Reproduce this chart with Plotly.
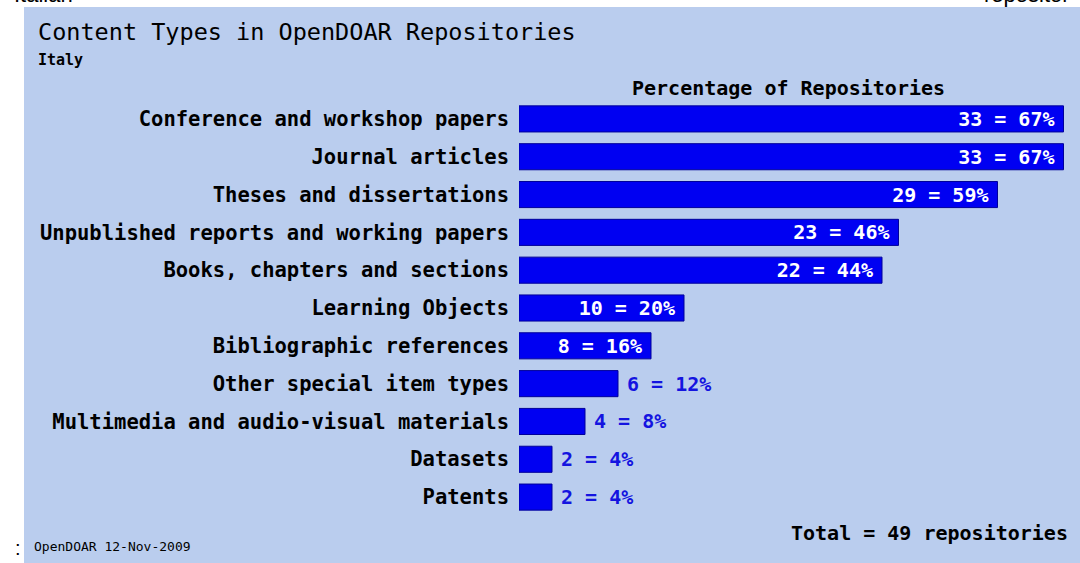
import plotly.graph_objects as go

categories = [
    "Conference and workshop papers",
    "Journal articles",
    "Theses and dissertations",
    "Unpublished reports and working papers",
    "Books, chapters and sections",
    "Learning Objects",
    "Bibliographic references",
    "Other special item types",
    "Multimedia and audio-visual materials",
    "Datasets",
    "Patents",
]
counts = [33, 33, 29, 23, 22, 10, 8, 6, 4, 2, 2]
percents = [67, 67, 59, 46, 44, 20, 16, 12, 8, 4, 4]
total = 49
label_pos = ["inside"] * 7 + ["outside"] * 4

BG = "#BACDEE"
MONO = "DejaVu Sans Mono"

W, H = 1080, 563
PAD = "<span style='font-size:10px'>\u00a0</span>"
texts = []
for c, p, pos in zip(counts, percents, label_pos):
    t = f"{c} = {p}%"
    texts.append(t + PAD if pos == "inside" else PAD + t)

fig = go.Figure(go.Bar(
    x=counts,
    y=categories,
    orientation="h",
    text=texts,
    texttemplate="%{text}",
    textposition=label_pos,
    insidetextanchor="end",
    insidetextfont=dict(family=MONO, size=20, color="white", weight="bold"),
    outsidetextfont=dict(family=MONO, size=20, color="#1414E0", weight="bold"),
    constraintext="none",
    cliponaxis=False,
    marker=dict(color="#0000F2", line=dict(color="#00009A", width=1)),
    hoverinfo="skip",
))

x0_px, x1_px = 519, 1075
px_per_unit = 16.5
fig.update_layout(
    width=W, height=H,
    margin=dict(l=0, r=0, t=0, b=0),
    paper_bgcolor="white",
    plot_bgcolor=BG,
    showlegend=False,
    bargap=0.31,
    xaxis=dict(
        domain=[x0_px / W, x1_px / W],
        range=[0, (x1_px - x0_px) / px_per_unit],
        showgrid=False, zeroline=False, showticklabels=False, showline=False,
        fixedrange=True,
    ),
    yaxis=dict(
        domain=[1 - 516 / H, 1 - 100 / H],
        autorange="reversed",
        showgrid=False, zeroline=False, showline=False,
        ticks="", ticklabelstandoff=9,
        tickfont=dict(family=MONO, size=20.5, color="black", weight="bold"),
        fixedrange=True,
    ),
    shapes=[dict(
        type="rect", xref="paper", yref="paper",
        x0=24 / W, x1=1, y0=0, y1=1 - 7 / H,
        fillcolor=BG, line=dict(width=0), layer="below",
    )],
)

def ann(text, x, y, xanchor, yanchor, size, weight="normal", family=MONO, color="black"):
    fig.add_annotation(
        text=text, xref="paper", yref="paper", x=x / W, y=1 - y / H,
        xanchor=xanchor, yanchor=yanchor, showarrow=False,
        font=dict(family=family, size=size, color=color, weight=weight),
    )

ann("Content Types in OpenDOAR Repositories", 36, 32, "left", "middle", 23.5)
ann("Italy", 36, 60, "left", "middle", 15, weight="bold")
ann("Percentage of Repositories", 788, 88, "center", "middle", 20, weight="bold")
ann(f"Total = {total} repositories", 1070, 533, "right", "middle", 20, weight="bold")
ann("OpenDOAR 12-Nov-2009", 32, 546, "left", "middle", 13)
ann(":", 18, 548, "center", "middle", 20, family="Liberation Sans")
ann("Italian", 12, 9, "left", "bottom", 22, family="Liberation Sans")
ann("repositor", 1072, 9, "right", "bottom", 22, family="Liberation Sans")

fig.write_html(
    "out.html",
    config={"displayModeBar": False},
    post_script="document.body.style.margin='0';document.body.style.overflow='hidden';",
)
